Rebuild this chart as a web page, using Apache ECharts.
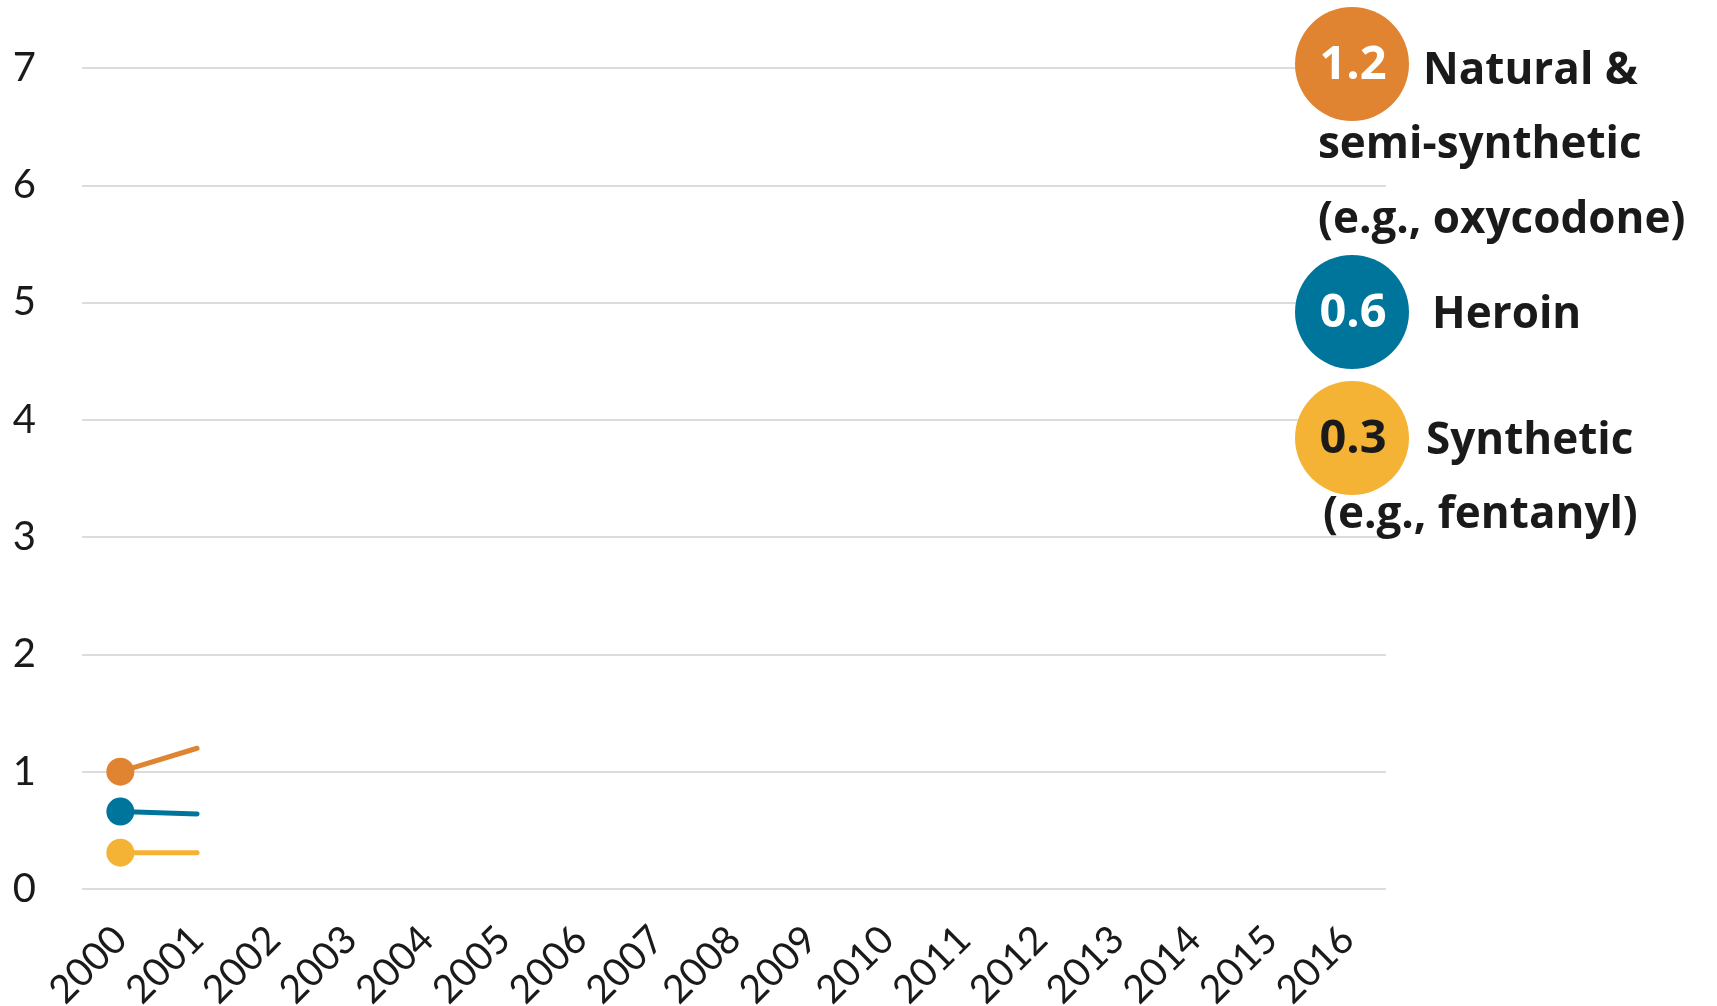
<!DOCTYPE html>
<html>
<head>
<meta charset="utf-8">
<script src="https://cdn.jsdelivr.net/npm/echarts@6/dist/echarts.min.js"></script>
<style>
  html, body { margin: 0; padding: 0; background: #fff; }
  #main { width: 1717px; height: 1006px; }
</style>
</head>
<body>
<div id="main"></div>
<script>
// data
var years = ['2000', '2001', '2002', '2003', '2004', '2005', '2006', '2007', '2008',
             '2009', '2010', '2011', '2012', '2013', '2014', '2015', '2016'];
var natural = [1.0, 1.2];
var heroin = [0.66, 0.64];
var synthetic = [0.31, 0.31];
var yTicks = [0, 1, 2, 3, 4, 5, 6, 7];

var orange = '#E08432';
var blue = '#00759B';
var yellow = '#F5B335';
var font = 'Lato, "Open Sans", sans-serif';
var boldFont = '"Open Sans", Lato, sans-serif';

function lastVal(arr) {
    return arr[arr.length - 1].toFixed(1);
}

function lineSeries(name, data, color) {
    return {
        name: name,
        type: 'line',
        data: data,
        symbol: 'circle',
        symbolSize: function (v, p) { return p.dataIndex === 0 ? 28 : 0; },
        showSymbol: true,
        itemStyle: { color: color },
        lineStyle: { color: color, width: 5, cap: 'round' },
        animation: false,
        silent: true
    };
}

var myChart = echarts.init(document.getElementById('main'));

var legendX = 1352;
var circleR = 57;

// 右侧标签
var graphics = [];
function bubble(y, color, txt, txtColor) {
    graphics.push({
        type: 'circle', shape: { cx: legendX, cy: y, r: circleR },
        style: { fill: color }, z: 10
    });
    graphics.push({
        type: 'text', x: legendX + 1, y: y + 2, z: 11,
        style: {
            text: txt, fill: txtColor, font: 'bold 47px ' + boldFont,
            align: 'center', verticalAlign: 'middle'
        }
    });
}
function label(x, y, txt) {
    graphics.push({
        type: 'text', x: x, y: y + 3, z: 12,
        style: {
            text: txt, fill: '#1a1a1a', font: 'bold 44px ' + boldFont,
            align: 'left', verticalAlign: 'middle'
        }
    });
}
bubble(64, orange, lastVal(natural), '#fff');
bubble(312, blue, lastVal(heroin), '#fff');
bubble(438, yellow, lastVal(synthetic), '#1a1a1a');
label(1423, 68, 'Natural &');
label(1318, 142, 'semi-synthetic');
label(1318, 217, '(e.g., oxycodone)');
label(1432, 312, 'Heroin');
label(1426, 438, 'Synthetic');
label(1323, 512, '(e.g., fentanyl)');

var option = {
    animation: false,
    grid: { left: 82, right: 331, top: 68, bottom: 117, outerBoundsMode: 'none' },
    xAxis: {
        type: 'category',
        data: years,
        boundaryGap: true,
        axisLine: { show: false },
        axisTick: { show: false },
        axisLabel: {
            rotate: 45, margin: 44, interval: 0,
            color: '#1a1a1a', fontSize: 39, fontFamily: font
        }
    },
    yAxis: {
        type: 'value',
        min: yTicks[0],
        max: yTicks[yTicks.length - 1],
        interval: 1,
        axisLine: { show: false },
        axisTick: { show: false },
        axisLabel: { color: '#1a1a1a', fontSize: 40, fontFamily: font, margin: 46 },
        splitLine: { lineStyle: { color: '#dcdcdc', width: 2 } }
    },
    series: [
        lineSeries('Natural & semi-synthetic', natural, orange),
        lineSeries('Heroin', heroin, blue),
        lineSeries('Synthetic', synthetic, yellow)
    ],
    graphic: graphics
};

myChart.setOption(option);
</script>
</body>
</html>
